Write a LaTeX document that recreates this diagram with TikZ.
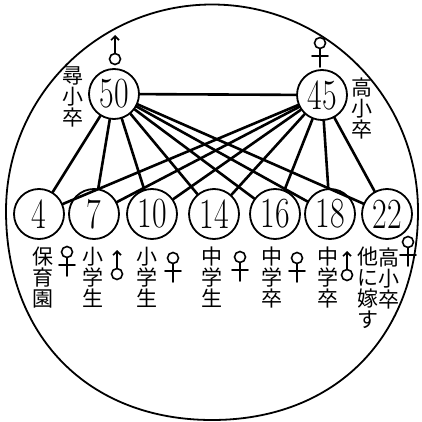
\documentclass[tikz,border=0pt]{standalone}
\usepackage{fontspec}
\usepackage{graphicx}
\newfontfamily\jpfont{Noto Sans CJK JP}
\usetikzlibrary{arrows.meta}
\newcommand{\agenum}[1]{\scalebox{0.74}[1]{#1}}

\begin{document}
\begin{tikzpicture}[
  x=1pt, y=-1pt,
  line cap=round,
  person/.style={
    circle, draw, line width=1.8pt, minimum size=50pt, inner sep=0pt,
    font=\fontsize{43}{43}\selectfont
  },
  tie/.style={line width=2.6pt},
  kanji/.style={
    anchor=north, inner sep=0pt, align=center,
    font=\jpfont\fontsize{21}{21}\selectfont
  },
  male/.pic={
    \draw[line width=1.6pt] (0,0) circle (5.5);
    \draw[line width=1.6pt, -{Straight Barb[length=4pt,width=8pt]}] (0,-5.5) -- (0,-24);
  },
  female/.pic={
    \draw[line width=1.6pt] (0,0) circle (5.5);
    \draw[line width=1.6pt] (0,5.5) -- (0,24) (-8,13) -- (8,13);
  }
]
\useasboundingbox (0,0) rectangle (421,422);

% family frame
\draw[line width=1.8pt] (6,211) .. controls (6,97) and (98,4.5) .. (212,4.5)
  .. controls (326,4.5) and (418,97) .. (418,211)
  .. controls (418,336) and (336,420) .. (212,420)
  .. controls (88,420) and (6,336) .. cycle;

% parents
\node[person] (p50) at (114,94) {\agenum{50}};
\node[person] (p45) at (322,95) {\agenum{45}};

% children
\node[person] (c4)  at (39,214)  {\agenum{4}};
\node[person] (c7)  at (94,214)  {\agenum{7}};
\node[person] (c10) at (152,214) {\agenum{10}};
\node[person] (c14) at (214,214) {\agenum{14}};
\node[person] (c16) at (275,214) {\agenum{16}};
\node[person] (c18) at (330,214) {\agenum{18}};
\node[person] (c22) at (387,214) {\agenum{22}};

% ties
\draw[tie] (p50) -- (p45);
\draw[tie] (p50) -- (c4);
\draw[tie] (p50) -- (c7);
\draw[tie] (p50) -- (c10);
\draw[tie] (p50) -- (c14);
\draw[tie] (p50) -- (c16);
\draw[tie] (p50) -- (c18);
\draw[tie] (p50) -- (c22);
\draw[tie] (p45) -- (c4);
\draw[tie] (p45) -- (c7);
\draw[tie] (p45) -- (c10);
\draw[tie] (p45) -- (c14);
\draw[tie] (p45) -- (c16);
\draw[tie] (p45) -- (c18);
\draw[tie] (p45) -- (c22);

% schooling
\node[kanji] (l50) at (73,67)  {尋\\小\\卒};
\node[kanji] (l45) at (362,78) {高\\小\\卒};
\node[kanji] (l4)  at (43,247)  {保\\育\\園};
\node[kanji] (l7)  at (93,247)  {小\\学\\生};
\node[kanji] (l10) at (147,247) {小\\学\\生};
\node[kanji] (l14) at (212,247) {中\\学\\生};
\node[kanji] (l16) at (272,247) {中\\学\\卒};
\node[kanji] (l18) at (328,247) {中\\学\\卒};
\node[kanji] (l22a) at (368,247) {他\\に\\嫁\\す};
\node[kanji] (l22b) at (389,248) {高\\小\\卒};

% sexes
\pic at (115,59)  {male};
\pic at (320,43)  {female};
\pic at (67,252)  {female};
\pic at (117,274) {male};
\pic at (173,258) {female};
\pic at (240,257) {female};
\pic at (297,258) {female};
\pic at (347,275) {male};
\pic at (408,242) {female};
\end{tikzpicture}
\end{document}
